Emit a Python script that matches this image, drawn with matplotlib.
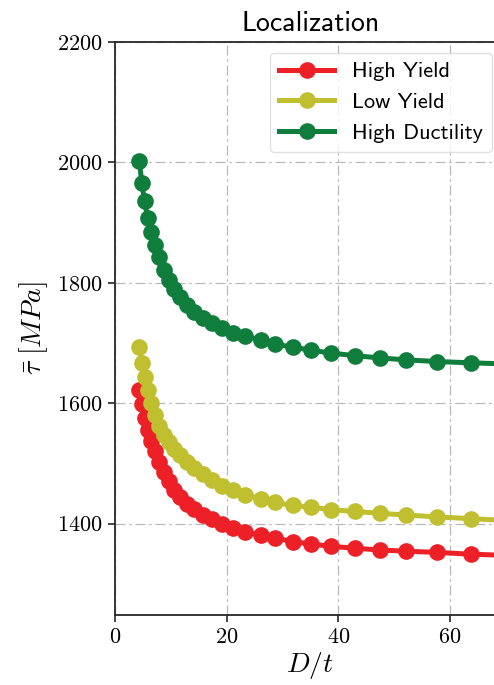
import matplotlib
matplotlib.use("Agg")
import matplotlib.pyplot as plt
from matplotlib.ticker import MultipleLocator

plt.rcParams['mathtext.fontset'] = 'cm'
plt.rcParams['axes.formatter.use_mathtext'] = True

# D/t values shared by the three materials
dt = [4.35, 4.8, 5.3, 5.85, 6.45, 7.1, 7.85, 8.7, 9.6, 10.6, 11.7, 12.9, 14.2,
      15.7, 17.3, 19.1, 21.1, 23.3, 26.1, 28.7, 31.8, 35.1, 38.7, 42.9, 47.4,
      52.1, 57.7, 63.7, 70.3]

# mean shear stress at localization [MPa]
high_yield = [1622, 1598, 1576, 1555, 1537, 1520, 1502, 1485, 1470, 1456, 1444,
              1433, 1424, 1414, 1407, 1399, 1392, 1386, 1381, 1376, 1370, 1366,
              1362, 1359, 1356, 1354, 1352, 1349, 1347]
low_yield = [1694, 1667, 1643, 1621, 1600, 1580, 1562, 1547, 1535, 1524, 1513,
             1502, 1492, 1482, 1472, 1463, 1455, 1447, 1441, 1435, 1430, 1427,
             1423, 1420, 1417, 1414, 1411, 1408, 1405]
high_ductility = [2003, 1966, 1935, 1908, 1884, 1862, 1842, 1822, 1805, 1789,
                  1776, 1763, 1752, 1742, 1733, 1725, 1717, 1711, 1705, 1698,
                  1693, 1688, 1683, 1679, 1675, 1672, 1669, 1667, 1665]

series = [
    ('High Yield', high_yield, '#ee2027'),
    ('Low Yield', low_yield, '#bfbf30'),
    ('High Ductility', high_ductility, '#0f7d3c'),
]

fig = plt.figure(figsize=(4.94, 6.85), dpi=100)
ax = fig.add_axes([0.2328, 0.1022, 0.7915, 0.8365])

for label, vals, color in series:
    ax.plot(dt, vals, '-o', color=color, lw=3.6, ms=12, mec=color, mew=0,
            label=label)

ax.set_xlim(0, 70)
ax.set_ylim(1248, 2200)
ax.xaxis.set_major_locator(MultipleLocator(20))
ax.yaxis.set_major_locator(MultipleLocator(200))

ax.grid(True, ls=(0, (8, 3, 2, 3)), color='0.72', lw=0.9)
for s in ax.spines.values():
    s.set_linewidth(1.3)
    s.set_color('0.15')
ax.tick_params(direction='out', length=5, width=1.2, color='0.15',
               labelsize=16, pad=4)
for t in ax.get_xticklabels() + ax.get_yticklabels():
    t.set_fontfamily('cmr10')

ax.set_xlabel(r'$D/t$', fontsize=20, labelpad=2)
ax.set_ylabel(r'$\bar{\tau}\ [MPa]$', fontsize=20, labelpad=5)
ax.set_title('Localization', fontfamily='cmss10', fontsize=20, pad=8)

leg = ax.legend(loc='upper right', bbox_to_anchor=(0.964, 0.981),
                borderaxespad=0, handlelength=2.5,
                prop={'family': 'cmss10', 'size': 16})
leg.get_frame().set_edgecolor('0.85')

fig.savefig('out.png', dpi=100)
